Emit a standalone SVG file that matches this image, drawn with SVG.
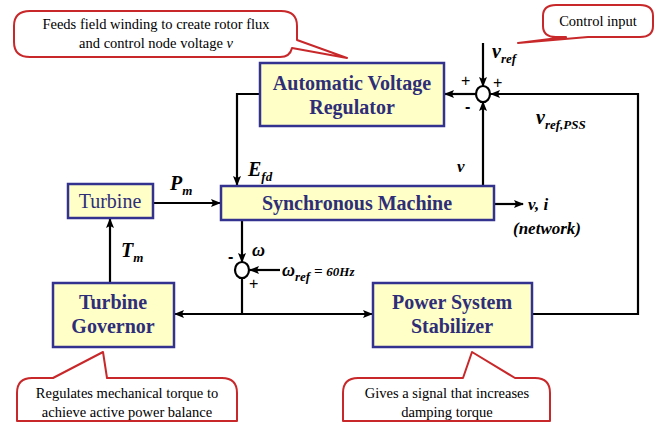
<svg xmlns="http://www.w3.org/2000/svg" width="662" height="423" viewBox="0 0 662 423">
<defs>
<marker id="ah" markerWidth="10" markerHeight="8" refX="9" refY="4" orient="auto" markerUnits="userSpaceOnUse">
<path d="M0,0 L10,4 L0,8 L2,4 Z" fill="#000"/>
</marker>
<style>
.box{fill:#FFFFC8;stroke:#33338F;stroke-width:2.5}
.bt{font-family:"Liberation Serif","Times New Roman",serif;font-weight:bold;font-size:20px;fill:#2E2E78;text-anchor:middle}
.ln{fill:none;stroke:#000;stroke-width:2.2}
.sum{fill:#fff;stroke:#000;stroke-width:2.2}
.lab{font-family:"Liberation Serif","Times New Roman",serif;font-weight:bold;font-style:italic;font-size:20px;fill:#000}
.sub{font-size:13px}
.sg{font-family:"Liberation Sans",sans-serif;font-size:16px;fill:#000}
.call{fill:#fff;stroke:#C8282A;stroke-width:2;stroke-linejoin:round}
.ct{font-family:"Liberation Serif","Times New Roman",serif;font-size:14.5px;fill:#000;text-anchor:middle}
</style>
</defs>
<rect width="662" height="423" fill="#fff"/>

<g id="callout-avr">
<path class="call" d="M30,11 L281,11 Q297,11 297,26 L297,40 L347,58 L292,48 Q290,57 280,57 L30,57 Q14,57 14,42 L14,26 Q14,11 30,11 Z"/>
<text class="ct" x="156" y="29">Feeds field winding to create rotor flux</text>
<text class="ct" x="156" y="48">and control node voltage <tspan font-style="italic">v</tspan></text>
</g>
<g id="callout-control">
<path class="call" d="M556,5 L640,5 Q653,5 653,16 L653,26 Q653,37 640,37 L588,37 L518,43 L566,37 L556,37 Q543,37 543,26 L543,16 Q543,5 556,5 Z"/>
<text class="ct" x="598" y="26">Control input</text>
</g>
<g id="callout-gov">
<path class="call" d="M32,378 L53,378 L103,352 L107,378 L222,378 Q237,378 237,393 L237,421 L17,421 L17,393 Q17,378 32,378 Z"/>
<text class="ct" x="127" y="398">Regulates mechanical torque to</text>
<text class="ct" x="127" y="417">achieve active power balance</text>
</g>
<g id="callout-pss">
<path class="call" d="M358,378 L463,378 L472,352 L515,378 L535,378 Q550,378 550,393 L550,421 L343,421 L343,393 Q343,378 358,378 Z"/>
<text class="ct" x="447" y="398">Gives a signal that increases</text>
<text class="ct" x="447" y="417">damping torque</text>
</g>

<g id="connectors">
<path class="ln" d="M483,43 L483,86" marker-end="url(#ah)"/>
<path class="ln" d="M476,94 L445,94" marker-end="url(#ah)"/>
<path class="ln" d="M532,314 L638,314 L638,94 L491,94" marker-end="url(#ah)"/>
<path class="ln" d="M483,186 L483,102" marker-end="url(#ah)"/>
<path class="ln" d="M260,94 L237,94 L237,185" marker-end="url(#ah)"/>
<path class="ln" d="M153,203 L220,203" marker-end="url(#ah)"/>
<path class="ln" d="M494,204 L523,204" marker-end="url(#ah)"/>
<path class="ln" d="M110,283 L110,219" marker-end="url(#ah)"/>
<path class="ln" d="M242,220 L242,262" marker-end="url(#ah)"/>
<path class="ln" d="M280,270 L250,270" marker-end="url(#ah)"/>
<path class="ln" d="M242,278 L242,314"/>
<path class="ln" d="M242,314 L175,314" marker-end="url(#ah)"/>
<path class="ln" d="M242,314 L372,314" marker-end="url(#ah)"/>
</g>

<g id="sum-v">
<ellipse class="sum" cx="483" cy="94" rx="7" ry="8"/>
<text class="sg" x="461" y="86">+</text>
<text class="sg" x="493" y="88">+</text>
<text class="sg" x="465" y="112" style="font-weight:bold">-</text>
</g>
<g id="sum-w">
<ellipse class="sum" cx="242" cy="270" rx="7" ry="8"/>
<text class="sg" x="228" y="262" style="font-weight:bold">-</text>
<text class="sg" x="249" y="289">+</text>
</g>

<g id="avr">
<rect class="box" x="260" y="63" width="184" height="63"/>
<text class="bt" x="352" y="90">Automatic Voltage</text>
<text class="bt" x="352" y="114">Regulator</text>
</g>
<g id="sm">
<rect class="box" x="221" y="186" width="273" height="34"/>
<text class="bt" x="357" y="210">Synchronous Machine</text>
</g>
<g id="turbine">
<rect class="box" x="68" y="184" width="85" height="34"/>
<text class="bt" x="110" y="208" style="font-weight:normal">Turbine</text>
</g>
<g id="governor">
<rect class="box" x="53" y="283" width="121" height="64"/>
<text class="bt" x="113" y="309">Turbine</text>
<text class="bt" x="113" y="333">Governor</text>
</g>
<g id="pss">
<rect class="box" x="373" y="283" width="159" height="64"/>
<text class="bt" x="452" y="309">Power System</text>
<text class="bt" x="452" y="333">Stabilizer</text>
</g>

<g id="labels">
<text class="lab" x="492" y="58">v<tspan class="sub" dy="5">ref</tspan></text>
<text class="lab" x="536" y="124">v<tspan class="sub" dy="5">ref,PSS</tspan></text>
<text class="lab" x="457" y="172" style="font-size:17px">v</text>
<text class="lab" x="248" y="176">E<tspan class="sub" dy="5">fd</tspan></text>
<text class="lab" x="170" y="190">P<tspan class="sub" dy="5">m</tspan></text>
<text class="lab" x="121" y="257">T<tspan class="sub" dy="5">m</tspan></text>
<text class="lab" x="252" y="256" style="font-size:18px">ω</text>
<text class="lab" x="282" y="276" style="font-size:18px">ω<tspan class="sub" dy="5">ref</tspan><tspan dy="-5" style="font-size:15px"> = </tspan><tspan style="font-size:13px">60Hz</tspan></text>
<text class="lab" x="528" y="210" style="font-size:17px">v, i</text>
<text class="lab" x="513" y="234" style="font-size:17px">(network)</text>
</g>
</svg>
